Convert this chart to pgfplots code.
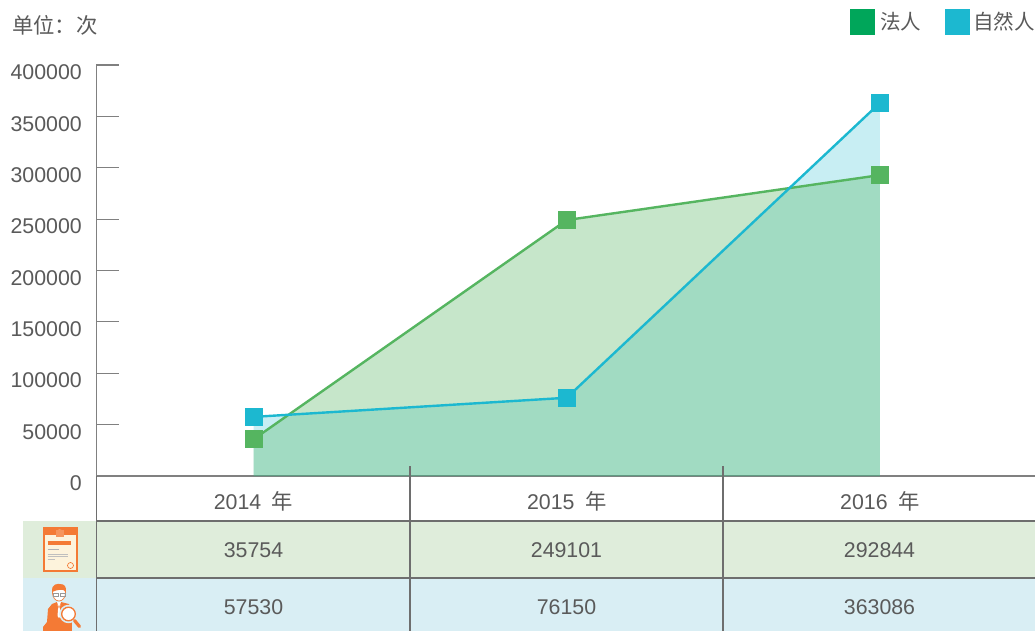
\documentclass[border=0pt]{standalone}
\usepackage{fontspec}
\usepackage{pgfplots}
\usepackage{pgfplotstable}
\pgfplotsset{compat=1.18}
\setmainfont{Liberation Sans}
\newfontfamily\cjk{Noto Sans CJK SC}
\definecolor{txt}{HTML}{5A5A5A}
\definecolor{gline}{HTML}{55B560}
\definecolor{bline}{HTML}{1CB8D0}
\definecolor{axisc}{HTML}{808080}
\definecolor{rulec}{HTML}{6E6E6E}
\definecolor{orangei}{HTML}{F47A35}
\pgfplotstableread{
x y
0 35754
1 249101
2 292844
}\faren
\pgfplotstableread{
x y
0 57530
1 76150
2 363086
}\ziran
\newcommand{\fs}{\fontsize{16}{19}\selectfont}
\newcommand{\fl}{\fontsize{15.4}{19}\selectfont}
\begin{document}
\begin{tikzpicture}
\begin{scope}[x=0.75pt,y=-0.75pt]
\fill[fill=white] (0,0) rectangle (1035,631);
% table bands
\fill[color={rgb,255:red,223;green,237;blue,219}] (23,521) rectangle (1035,578);
\fill[color={rgb,255:red,217;green,238;blue,244}] (23,578) rectangle (1035,631);
\end{scope}
\begin{axis}[
  at={(72.375pt,-357pt)}, anchor=south west,
  scale only axis, width=703.875pt, height=308.25pt,
  xmin=-0.5016, xmax=2.4952, ymin=0, ymax=400000,
  axis lines*=left, axis line style={-, draw=axisc, line width=1pt},
  xtick={0,1,2}, xticklabels={2014\,\,\,{\cjk 年},2015\,\,\,{\cjk 年},2016\,\,\,{\cjk 年}},
  xtick style={draw=none},
  xticklabel style={font=\fs, text=txt, anchor=center, yshift=-19pt},
  ytick={0,50000,100000,150000,200000,250000,300000,350000,400000},
  ytick style={draw=axisc, line width=0.9pt},
  tick align=inside, major tick length=17pt,
  yticklabel style={font=\fs, text=txt, anchor=east, yshift=-5.5pt, xshift=-7.5pt,
    /pgf/number format/assume math mode=true,
    /pgf/number format/fixed, /pgf/number format/1000 sep={}},
  scaled y ticks=false,
  clip=false,
]
\addplot[draw=none, fill=bline, fill opacity=0.24] table[x=x,y=y]{\ziran} \closedcycle;
\addplot[draw=none, fill=gline, fill opacity=0.335] table[x=x,y=y]{\faren} \closedcycle;
\addplot[gline, line width=1.8pt, mark=none] table[x=x,y=y]{\faren};
\addplot[bline, line width=1.8pt, mark=none] table[x=x,y=y]{\ziran};
\addplot[only marks, mark=square*, mark size=6.4pt, mark options={fill=gline, draw=gline, line width=0pt}] table[x=x,y=y]{\faren};
\addplot[only marks, mark=square*, mark size=6.4pt, mark options={fill=bline, draw=bline, line width=0pt}] table[x=x,y=y]{\ziran};
\end{axis}
\begin{scope}[x=0.75pt,y=-0.75pt]
% table rules
\draw[rulec, line width=0.95pt] (96.5,521) -- (1035,521);
\draw[rulec, line width=0.95pt] (96.5,578) -- (1035,578);
\draw[rulec, line width=0.95pt] (96.5,476) -- (96.5,631);
\draw[rulec, line width=0.85pt] (410,466) -- (410,631);
\draw[rulec, line width=0.85pt] (723,466) -- (723,631);
% table values
\foreach \xx/\v in {253.5/35754,566.5/249101,879.5/292844}
  \node[font=\fs, text=txt, inner sep=0pt] at (\xx,550) {\v};
\foreach \xx/\v in {253.5/57530,566.5/76150,879.5/363086}
  \node[font=\fs, text=txt, inner sep=0pt] at (\xx,607) {\v};
% title
\node[font=\fs\cjk, text=txt, anchor=west, inner sep=0pt] at (12,25) {单位：次};
% legend
\fill[color={rgb,255:red,0;green,166;blue,90}] (850,9) rectangle (875,35);
\node[font=\fl\cjk, text=txt, anchor=west, inner sep=0pt] at (880,21.5) {法人};
\fill[color=bline] (945,9) rectangle (970,35);
\node[font=\fl\cjk, text=txt, anchor=west, inner sep=0pt] at (973,21.5) {自然人};
% icon: certificate
\fill[orangei] (43,527) rectangle (78,572);
\fill[color={rgb,255:red,253;green,243;blue,220}] (45,535) rectangle (76,570);
\fill[orangei!70!white] (59.7,533) circle (3.8);
\fill[orangei!80!white] (55.7,530) rectangle (63.7,537);
\draw[orangei, line width=2.6pt] (47.5,543) -- (71,543);
\draw[gray!60, line width=0.6pt] (47.5,549.8) -- (59,549.8);
\draw[gray!50, line width=0.9pt] (47.5,554.5) -- (68,554.5);
\draw[gray!50, line width=0.9pt] (47.5,556.8) -- (68,556.8);
\draw[gray!50, line width=0.6pt] (47.5,559) -- (55,559);
\draw[orangei, line width=0.5pt] (70.5,565.5) circle (3);
% icon: person
\fill[orangei] (48,609) -- (52,604) -- (57,602) -- (61,602) -- (69,604) -- (72,610) -- (72,631) -- (43,631) -- (43,627) -- (47,622) -- cycle;
\fill[white] (57,602) -- (61,602) -- (59,607) -- cycle;
\draw[orangei, line width=0.5pt, fill=white] (59,593) ellipse (6.5 and 8);
\fill[orangei] (52.2,592) .. controls (51,583) and (58,584) .. (60,584) .. controls (65,584) and (66.5,587) .. (65.8,592) .. controls (64,588) and (56,590) .. (52.2,592) -- cycle;
\draw[gray!80, line width=0.5pt] (53,593.5) rectangle (58,596.5) (60,593.5) rectangle (65,596.5);
\fill[white] (57.3,604) -- (58.2,607) -- (57.5,616) -- (59,618) -- (60.5,616) -- (59.8,607) -- (60.7,604) -- (59,609) -- cycle;
\fill[color={rgb,255:red,217;green,238;blue,244}] (72,605) rectangle (80,631);
\fill[orangei] (43,627) rectangle (62,631);
\draw[color={rgb,255:red,217;green,238;blue,244}, line width=1.5pt] (68.5,614) circle (8.2);
\draw[orangei, line width=1pt, fill=white] (68.5,614) circle (6.8);
\draw[orangei, line width=2.4pt, line cap=round] (74.5,620.5) -- (79.5,626.5);
\pgfresetboundingbox
\path[use as bounding box] (0,0) rectangle (1035,631);
\end{scope}
\end{tikzpicture}
\end{document}
